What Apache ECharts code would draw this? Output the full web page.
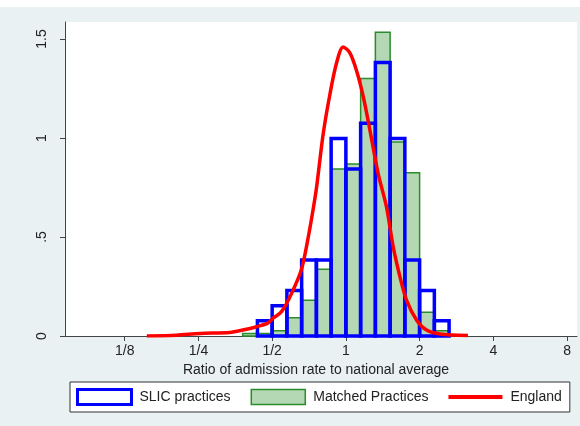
<!DOCTYPE html>
<html><head><meta charset="utf-8">
<script src="https://cdn.jsdelivr.net/npm/echarts@6/dist/echarts.min.js"></script>
<style>html,body{margin:0;padding:0;background:#fff}#c{width:580px;height:426px}</style>
</head><body><div id="c"></div>
<script>
// x positions are log2(ratio)
const binEdges = [-1.4,-1.2,-1.0,-0.8,-0.6,-0.4,-0.2,0,0.2,0.4,0.6,0.8,1.0,1.2,1.4];
const slicValues = [null,0.077,0.153,0.23,0.384,0.384,0.998,0.844,1.075,1.382,0.998,0.384,0.23,0.077];
const matchedValues = [0.013,0.013,0.027,0.092,0.18,0.337,0.843,0.869,1.30,1.534,0.98,0.825,0.12,0.027];
const englandX = [-2.70,-2.3,-1.98,-1.575,-1.40,-1.21,-1.06,-0.987,-0.873,-0.737,-0.60,-0.51,-0.444,-0.398,-0.308,-0.217,-0.126,-0.037,0.054,0.145,0.235,0.326,0.438,0.552,0.642,0.733,0.824,0.96,1.095,1.276,1.656];
const englandY = [0.0,0.004,0.013,0.018,0.03,0.047,0.065,0.09,0.123,0.215,0.34,0.50,0.64,0.75,1.02,1.22,1.38,1.46,1.43,1.34,1.21,1.04,0.82,0.65,0.45,0.30,0.18,0.08,0.03,0.01,0.002];
const xTickValues = [-3,-2,-1,0,1,2,3];
const xTickLabels = ['1/8','1/4','1/2','1','2','4','8'];
const yTickValues = [0,0.5,1,1.5];
const yTickLabels = ['0','.5','1','1.5'];

const FONT = "'Liberation Sans', Arial, sans-serif";
const BLUE = '#0000ff', GFILL = '#b4d8b4', GLINE = '#2a8c2a', RED = '#ff0000';

function binData(vals){
  const out = [];
  vals.forEach((v,i)=>{ if(v!=null) out.push([binEdges[i], binEdges[i+1], v]); });
  return out;
}
function barRender(style){
  return function(params, api){
    const p0 = api.coord([api.value(0), api.value(2)]);
    const p1 = api.coord([api.value(1), 0]);
    return {type:'rect', shape:{x:p0[0], y:p0[1], width:p1[0]-p0[0], height:p1[1]-p0[1]}, style: style};
  };
}

const chart = echarts.init(document.getElementById('c'), null, {renderer:'canvas'});
chart.setOption({
  animation:false,
  backgroundColor:'#e9f1f3',
  textStyle:{fontFamily:FONT},
  graphic:[{type:'rect', left:0, top:0, shape:{width:580, height:7}, style:{fill:'#ffffff'}}],
  grid:{left:65, right:3, top:22, bottom:90, show:true, backgroundColor:'#ffffff', borderWidth:0, containLabel:false},
  legend:{
    left:70, top:382, orient:'horizontal',
    padding:[6,8,6,6], borderColor:'#333', borderWidth:1, backgroundColor:'#ffffff', borderRadius:0,
    itemWidth:54, itemHeight:15, itemGap:20,
    textStyle:{fontFamily:FONT, fontSize:14, color:'#222', padding:[0,0,0,3]},
    data:[
      {name:'SLIC practices', icon:'rect', itemStyle:{color:'rgba(0,0,0,0)', borderColor:BLUE, borderWidth:3}},
      {name:'Matched Practices', icon:'rect', itemStyle:{color:GFILL, borderColor:GLINE, borderWidth:1.5}},
      {name:'England', icon:'path://M0,0L54,0L54,4L0,4Z', itemStyle:{color:RED, borderWidth:0}}
    ]
  },
  xAxis:{
    type:'value', min:-3.81, max:3.135,
    name:'Ratio of admission rate to national average', nameLocation:'middle', nameGap:25,
    nameTextStyle:{fontFamily:FONT, fontSize:14, color:'#222', padding:[0,10,0,0]},
    axisLine:{show:true, onZero:false, lineStyle:{color:'#444', width:1}},
    axisTick:{show:true, length:5, customValues:xTickValues, lineStyle:{color:'#444'}},
    axisLabel:{customValues:xTickValues, margin:8, fontSize:14, color:'#222', fontFamily:FONT,
      formatter:function(v){ const i = xTickValues.indexOf(Math.round(v)); return i>=0 ? xTickLabels[i] : ''; }},
    splitLine:{show:false}
  },
  yAxis:{
    type:'value', min:0, max:1.586,
    axisLine:{show:true, onZero:false, lineStyle:{color:'#444', width:1}},
    axisTick:{show:true, length:5, customValues:yTickValues, lineStyle:{color:'#444'}},
    axisLabel:{customValues:yTickValues, rotate:90, margin:16, fontSize:14, color:'#222', fontFamily:FONT,
      formatter:function(v){ const i = yTickValues.findIndex(t=>Math.abs(t-v)<1e-6); return i>=0 ? yTickLabels[i] : ''; }},
    splitLine:{show:false}
  },
  series:[
    {name:'Matched Practices', type:'custom', z:2, renderItem:barRender({fill:GFILL, stroke:GLINE, lineWidth:1.5}),
     encode:{x:[0,1], y:2}, data:binData(matchedValues), itemStyle:{color:GFILL}},
    {name:'SLIC practices', type:'custom', z:3, renderItem:barRender({fill:'none', stroke:BLUE, lineWidth:3.5}),
     encode:{x:[0,1], y:2}, data:binData(slicValues), itemStyle:{color:BLUE}},
    {name:'England', type:'line', z:5, symbol:'none', smooth:0.3,
     data:englandX.map((x,i)=>[x, englandY[i]]),
     lineStyle:{color:RED, width:3.5}, itemStyle:{color:RED}}
  ]
});
</script></body></html>
